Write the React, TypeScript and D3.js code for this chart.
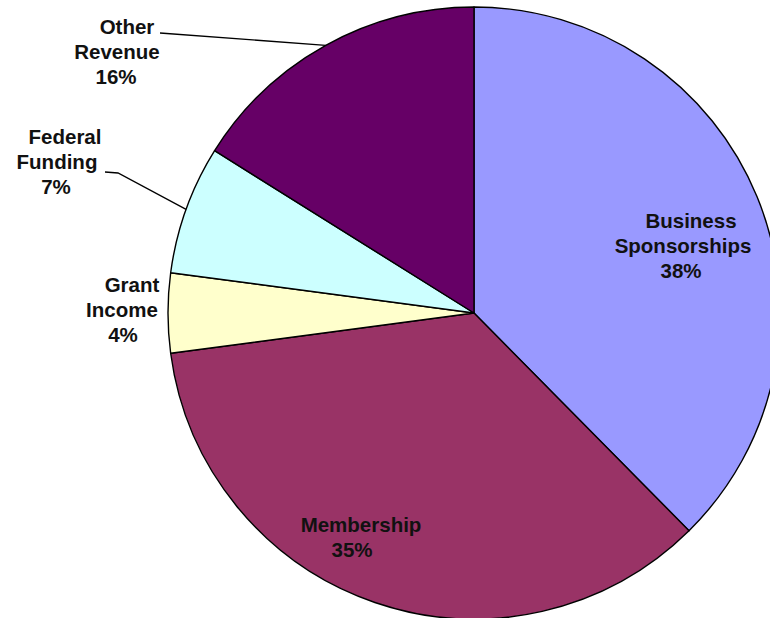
import React from "react";
import * as d3 from "d3";

const categories = ["Business Sponsorships", "Membership", "Grant Income", "Federal Funding", "Other Revenue"];
const values = [37.6, 35.3, 4.2, 6.8, 16.1];
const percentLabels = ["38%", "35%", "4%", "7%", "16%"];
const labelLines = [
  ["Business", "Sponsorships", "38%"],
  ["Membership", "35%"],
  ["Grant", "Income", "4%"],
  ["Federal", "Funding", "7%"],
  ["Other", "Revenue", "16%"],
];
const colors = ["#9999FF", "#993366", "#FFFFCC", "#CCFFFF", "#660066"];

// label layout (positions of each text line, in px)
const labelLayout = [
  { xs: [691, 683, 681], y0: 228 },
  { xs: [361, 352], y0: 532 },
  { xs: [132, 122, 123], y0: 292 },
  { xs: [65, 57, 56], y0: 144 },
  { xs: [127, 117, 116], y0: 34 },
];
const leaders: (number[][] | null)[] = [
  null,
  null,
  null,
  [[105, 172], [118, 173]],
  [[160, 33]],
];

export default function App() {
  const W = 770, H = 618;
  const cx = 474, cy = 313, r = 306;
  const pie = d3.pie<number>().sort(null).value((d) => d)(values);
  const arc = d3.arc<d3.PieArcDatum<number>>().innerRadius(0).outerRadius(r);
  const lh = 25;
  return (
    <svg width={W} height={H} style={{ position: "absolute", left: 0, top: 0, background: "#fff" }}>
      <g transform={`translate(${cx},${cy})`}>
        {pie.map((p, i) => (
          <path key={categories[i]} d={arc(p) || ""} fill={colors[i]} stroke="#000" strokeWidth={1.4} strokeLinejoin="round" />
        ))}
      </g>
      {pie.map((p, i) => {
        const pts = leaders[i];
        if (!pts) return null;
        const mid = (p.startAngle + p.endAngle) / 2;
        const ex = cx + r * Math.sin(mid);
        const ey = cy - r * Math.cos(mid);
        const all = [...pts, [ex, ey]];
        return (
          <polyline key={"l" + i} points={all.map((q) => q.join(",")).join(" ")} fill="none" stroke="#000" strokeWidth={1.3} />
        );
      })}
      {labelLines.map((lines, i) => (
        <text
          key={"t" + i}
          fontFamily="'Liberation Sans', Arial, sans-serif"
          fontWeight="bold"
          fontSize={20.5}
          fill="#111"
          textAnchor="middle"
          data-pct={percentLabels[i]}
        >
          {lines.map((ln, j) => (
            <tspan key={j} x={labelLayout[i].xs[j]} y={labelLayout[i].y0 + j * lh}>
              {ln}
            </tspan>
          ))}
        </text>
      ))}
    </svg>
  );
}
